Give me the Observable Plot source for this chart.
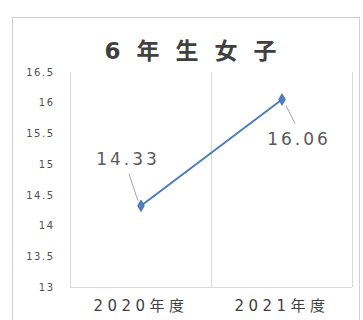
<!DOCTYPE html>
<html><head><meta charset="utf-8">
<script src="https://cdn.jsdelivr.net/npm/d3@7"></script>
<script src="https://cdn.jsdelivr.net/npm/@observablehq/plot@0.6"></script>
<style>
body{margin:0;background:#fff;}
#wrap{position:relative;width:363px;height:320px;overflow:hidden;}
#box{position:absolute;left:12px;top:17px;width:348px;height:320px;border:1px solid #d0d0d0;box-sizing:border-box;}
#chart{position:absolute;left:0;top:0;}
</style></head>
<body><div id="wrap"><div id="box"></div><div id="chart"></div></div>
<script>
const title = "6年生女子";
const categories = ["2020年度", "2021年度"];
const values = [14.33, 16.06];
const yTicks = [13, 13.5, 14, 14.5, 15, 15.5, 16, 16.5];

const data = categories.map((c, i) => ({i, c, v: values[i]}));
const W = 363, H = 320, mL = 70, mR = 11, mT = 72, mB = 33;
const pxX = (W - mL - mR) / categories.length;
const pxY = (H - mT - mB) / (d3.max(yTicks) - d3.min(yTicks));
// label / leader offsets in pixels from each point
const labelOff = [
  {lx: -13, ly: -46, ex: -12, ey: -32, sx: -3, sy: -5},
  {lx: 17, ly: 40, ex: 13, ey: 24, sx: 4, sy: 6}
];
const leaders = data.map((d, k) => ({
  x1: d.i + labelOff[k].sx / pxX, y1: d.v - labelOff[k].sy / pxY,
  x2: d.i + labelOff[k].ex / pxX, y2: d.v - labelOff[k].ey / pxY
}));
const labels = data.map((d, k) => ({x: d.i + labelOff[k].lx / pxX, y: d.v - labelOff[k].ly / pxY, t: d.v.toFixed(2)}));
const bounds = d3.range(categories.length + 1).map(i => i - 0.5);

const font = "'DejaVu Sans', 'Noto Sans CJK JP', sans-serif";
const plot = Plot.plot({
  width: W, height: H,
  marginLeft: mL, marginRight: mR, marginTop: mT, marginBottom: mB,
  style: {fontFamily: font, background: "transparent", overflow: "visible"},
  x: {type: "linear", domain: [-0.5, categories.length - 0.5], axis: null},
  y: {domain: [d3.min(yTicks), d3.max(yTicks)], axis: null},
  marks: [
    Plot.ruleX(bounds, {stroke: "#d9d9d9", strokeWidth: 1}),
    Plot.ruleY([d3.min(yTicks)], {stroke: "#d9d9d9", strokeWidth: 1}),
    Plot.axisY({ticks: yTicks, tickSize: 0, tickPadding: 16, fontSize: 10, fill: "#505050", tickFormat: d => String(d)}),
    Plot.axisX({ticks: d3.range(categories.length), tickSize: 0, tickPadding: 13, fontSize: 15, fill: "#404040", tickFormat: i => categories[i]}),
    Plot.link(leaders, {x1: "x1", y1: "y1", x2: "x2", y2: "y2", stroke: "#a6a6a6", strokeWidth: 1}),
    Plot.line(data, {x: "i", y: "v", stroke: "#4a7ebb", strokeWidth: 2}),
    Plot.dot(data, {x: "i", y: "v", symbol: "diamond", r: 3.5, fill: "#4f81bd", stroke: "#3a6aa5", strokeWidth: 0.8}),
    Plot.text(labels, {x: "x", y: "y", text: "t", fontSize: 17, fill: "#595959"}),
    Plot.text([title], {frameAnchor: "top", dx: -13, dy: -30, fontSize: 23, fontWeight: "bold", fill: "#404040"})
  ]
});
// letter spacing as in the reference
d3.select(plot).selectAll("text").each(function() {
  const t = this.textContent;
  if (t === title) this.setAttribute("letter-spacing", "16");
  else if (categories.includes(t)) this.setAttribute("letter-spacing", "4.5");
  else if (labels.some(l => l.t === t)) this.setAttribute("letter-spacing", "3");
  else if (yTicks.map(String).includes(t)) this.setAttribute("letter-spacing", "1.5");
});
document.getElementById("chart").appendChild(plot);
</script></body></html>
